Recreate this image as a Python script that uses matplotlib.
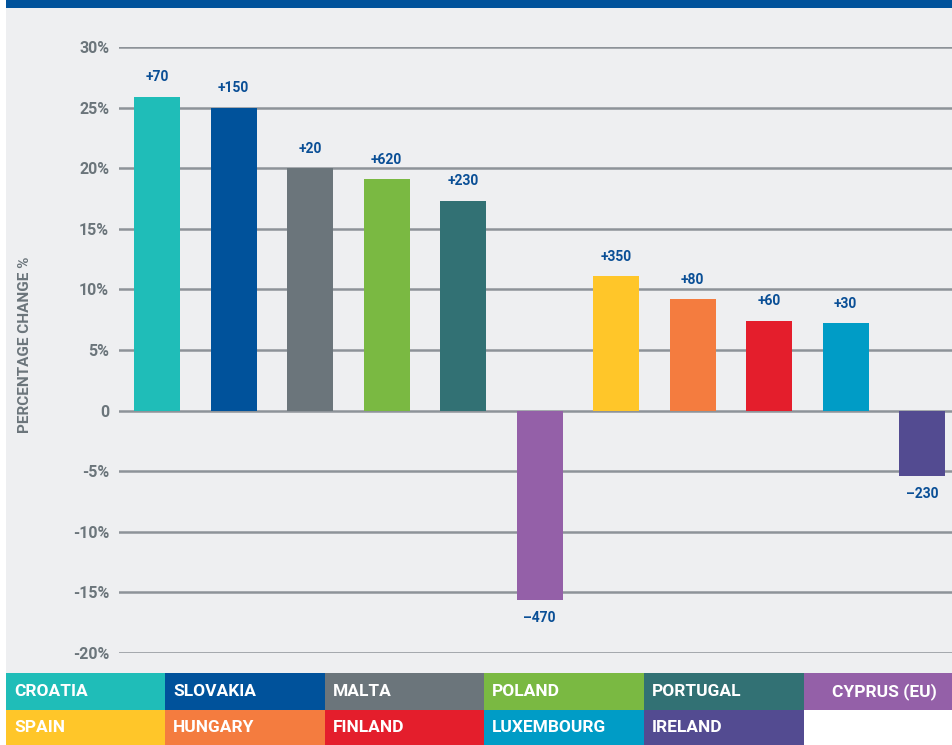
import matplotlib
matplotlib.use("Agg")
import matplotlib.pyplot as plt
from matplotlib.patches import Rectangle

countries = ["CROATIA", "SLOVAKIA", "MALTA", "POLAND", "PORTUGAL", "CYPRUS (EU)",
             "SPAIN", "HUNGARY", "FINLAND", "LUXEMBOURG", "IRELAND"]
pct_change = [25.9, 25.0, 20.0, 19.1, 17.3, -15.6, 11.1, 9.2, 7.4, 7.2, -5.4]
abs_change = ["+70", "+150", "+20", "+620", "+230", "\u2013470", "+350", "+80", "+60", "+30", "\u2013230"]
colors = ["#1fbdb8", "#00529b", "#6b757b", "#7ab942", "#327174", "#9460a8",
          "#ffc629", "#f47c3f", "#e41e2c", "#009cc6", "#534b91"]
yticks = [30, 25, 20, 15, 10, 5, 0, -5, -10, -15, -20]
ytick_labels = ["30%", "25%", "20%", "15%", "10%", "5%", "0", "-5%", "-10%", "-15%", "-20%"]

FONT = ["Liberation Sans Narrow", "Roboto", "DejaVu Sans"]
plt.rcParams["font.family"] = FONT
plt.rcParams["font.weight"] = "bold"

W, H = 952, 745
fig = plt.figure(figsize=(W / 100, H / 100), dpi=100)
fig.patch.set_facecolor("white")

def fx(px):
    return px / W

def fy(py):
    return 1 - py / H

# gray background panel
fig.patches.append(Rectangle((fx(6), fy(673)), fx(952) - fx(6), fy(8) - fy(673),
                             transform=fig.transFigure, facecolor="#eeeff1", edgecolor="none", zorder=-2))
# top blue band
fig.patches.append(Rectangle((fx(6), fy(8)), 1 - fx(6), fy(0) - fy(8),
                             transform=fig.transFigure, facecolor="#00529b", edgecolor="none", zorder=-2))

# main axes: y=30 at px 47, y=-20 at px 653
ax = fig.add_axes([fx(119), fy(653), fx(952) - fx(119), fy(47) - fy(653)])
ax.set_zorder(1)
ax.set_facecolor("none")
x = list(range(len(countries)))
ax.bar(x, pct_change, width=0.6, color=colors, zorder=3)
ax.set_ylim(-20, 30)
ax.set_xlim(-0.5, 10.39)
ax.set_yticks(yticks)
ax.set_yticklabels(ytick_labels)
ax.set_xticks([])
for s in ax.spines.values():
    s.set_visible(False)
ax.yaxis.grid(True, color="#8d9399", linewidth=1.8, zorder=1)
ax.set_axisbelow(True)
ax.tick_params(axis="y", length=0, pad=7, labelsize=11.5, labelcolor="#6b757b")
for lbl in ax.get_yticklabels():
    lbl.set_fontweight("bold")

for xi, v, t in zip(x, pct_change, abs_change):
    if v >= 0:
        ax.annotate(t, (xi, v), xytext=(0, 9), textcoords="offset points",
                    ha="center", va="bottom", fontsize=10, color="#0a4f96", fontweight="bold")
    else:
        ax.annotate(t, (xi, v), xytext=(0, -8), textcoords="offset points",
                    ha="center", va="top", fontsize=10, color="#0a4f96", fontweight="bold")

fig.text(fx(25), fy(345), "PERCENTAGE CHANGE %", rotation=90, ha="center", va="center",
         fontsize=11, color="#6b757b", fontweight="bold")

# legend grid
col_edges = [6, 165, 325, 484, 644, 804, 952]
row_edges = [673, 710, 745]
for i, (name, c) in enumerate(zip(countries, colors)):
    r, col = divmod(i, 6)
    x0, x1 = col_edges[col], col_edges[col + 1]
    y0, y1 = row_edges[r], row_edges[r + 1]
    fig.patches.append(Rectangle((fx(x0), fy(y1)), fx(x1) - fx(x0), fy(y0) - fy(y1),
                                 transform=fig.transFigure, facecolor=c, edgecolor="none", zorder=-1))
    tx = x0 + (28 if name == "CYPRUS (EU)" else 8)
    fig.text(fx(tx), fy((y0 + y1) / 2), name, ha="left", va="center", fontsize=12.5,
             color="white", fontweight="bold", zorder=2)

fig.savefig("out.png", dpi=100, facecolor=fig.get_facecolor())
